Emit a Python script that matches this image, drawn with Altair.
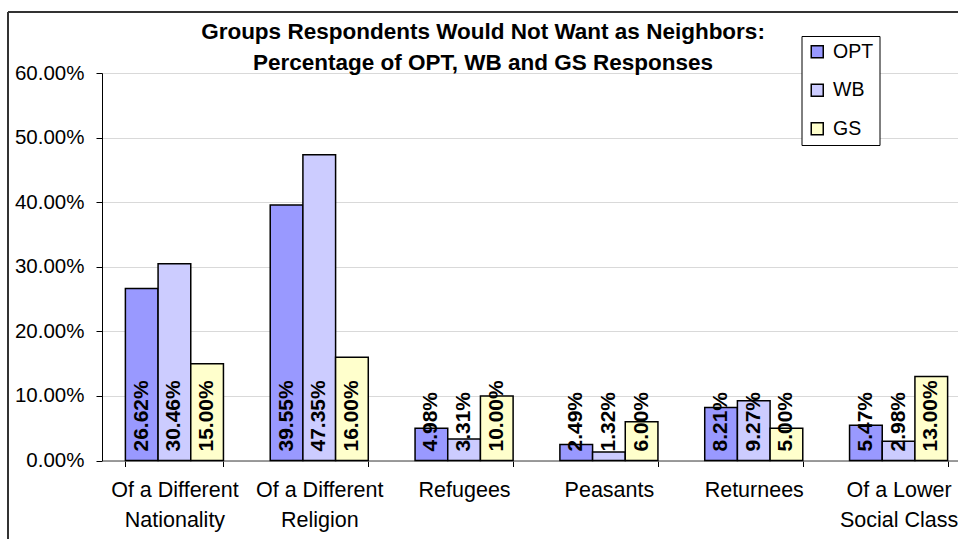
import altair as alt
import pandas as pd

categories = [
    "Of a Different\nNationality",
    "Of a Different\nReligion",
    "Refugees",
    "Peasants",
    "Returnees",
    "Of a Lower\nSocial Class",
]
series = ["OPT", "WB", "GS"]
opt_vals = [26.62, 39.55, 4.98, 2.49, 8.21, 5.47]
wb_vals = [30.46, 47.35, 3.31, 1.32, 9.27, 2.98]
gs_vals = [15.00, 16.00, 10.00, 6.00, 5.00, 13.00]
colors = ["#9999FF", "#CCCCFF", "#FFFFCC"]
y_ticks = [0.0, 0.1, 0.2, 0.3, 0.4, 0.5, 0.6]
title_lines = [
    "Groups Respondents Would Not Want as Neighbors:",
    "Percentage of OPT, WB and GS Responses",
]

rows = []
for s, vals in zip(series, [opt_vals, wb_vals, gs_vals]):
    for c, v in zip(categories, vals):
        rows.append({"category": c, "series": s, "pct": v})
df = pd.DataFrame(rows)

FONT = "Liberation Sans"

x_enc = alt.X(
    "category:N",
    sort=categories,
    scale=alt.Scale(range=[0, 869], paddingInner=0.323, paddingOuter=0.1615),
    axis=alt.Axis(
        title=None,
        labelAngle=0,
        labelExpr="split(datum.label, '\\n')",
        labelFont=FONT,
        labelFontSize=21.5,
        labelLineHeight=30,
        labelPadding=13,
        labelColor="black",
        labelBaseline="top",
        tickBand="extent",
        tickSize=6,
        tickColor="black",
        domainColor="#808080",
        domainWidth=1.5,
        grid=False,
    ),
)
xoff_enc = alt.XOffset("series:N", sort=series, scale=alt.Scale(paddingInner=0, paddingOuter=0))

base = alt.Chart(df).transform_calculate(frac="datum.pct / 100")

bars = base.mark_bar(stroke="black", strokeWidth=1.5).encode(
    x=x_enc,
    xOffset=xoff_enc,
    y=alt.Y(
        "frac:Q",
        scale=alt.Scale(domain=[0, 0.6], nice=False),
        axis=alt.Axis(
            title=None,
            format=".2%",
            values=y_ticks,
            labelFont=FONT,
            labelFontSize=20.5,
            labelColor="black",
            labelPadding=12,
            tickSize=6,
            tickColor="black",
            domainColor="black",
            gridColor="#d9d9d9",
        ),
    ),
    color=alt.Color(
        "series:N",
        sort=series,
        scale=alt.Scale(domain=series, range=colors),
        legend=alt.Legend(
            title=None,
            orient="none",
            legendX=699.5,
            legendY=-37,
            direction="vertical",
            symbolType="square",
            symbolSize=144,
            symbolStrokeColor="black",
            symbolStrokeWidth=1.5,
            labelFont=FONT,
            labelFontSize=19.5,
            labelColor="black",
            labelOffset=6,
            rowPadding=17.5,
            padding=6,
            strokeColor="black",
            fillColor="white",
        ),
    ),
)

labels = base.mark_text(
    angle=270, align="left", baseline="middle", dx=9,
    font=FONT, fontSize=21, fontWeight="bold", color="black",
).encode(
    x=x_enc,
    xOffset=xoff_enc,
    y=alt.datum(0),
    text=alt.Text("frac:Q", format=".2%"),
)

one = pd.DataFrame({"k": [0]})
border_top = alt.Chart(one).mark_rule(color="#333333", strokeWidth=2).encode(
    x=alt.value(-94), x2=alt.value(900), y=alt.value(-61)
)
border_left = alt.Chart(one).mark_rule(color="#333333", strokeWidth=2).encode(
    x=alt.value(-94), y=alt.value(-61), y2=alt.value(480)
)

chart = alt.layer(bars, labels, border_top, border_left).properties(
    width=856,
    height=387.5,
    autosize=alt.AutoSizeParams(type="none"),
    padding={"left": 102, "top": 73, "right": 0, "bottom": 78.5},
    title=alt.TitleParams(
        title_lines,
        font=FONT,
        fontSize=22.5,
        fontWeight="bold",
        color="black",
        lineHeight=31,
        anchor="middle",
        dx=-47,
        dy=67,
        offset=4,
    ),
).configure_view(stroke=None).configure(background="white")

chart.save("out.html", embed_options={"renderer": "svg", "actions": False})
